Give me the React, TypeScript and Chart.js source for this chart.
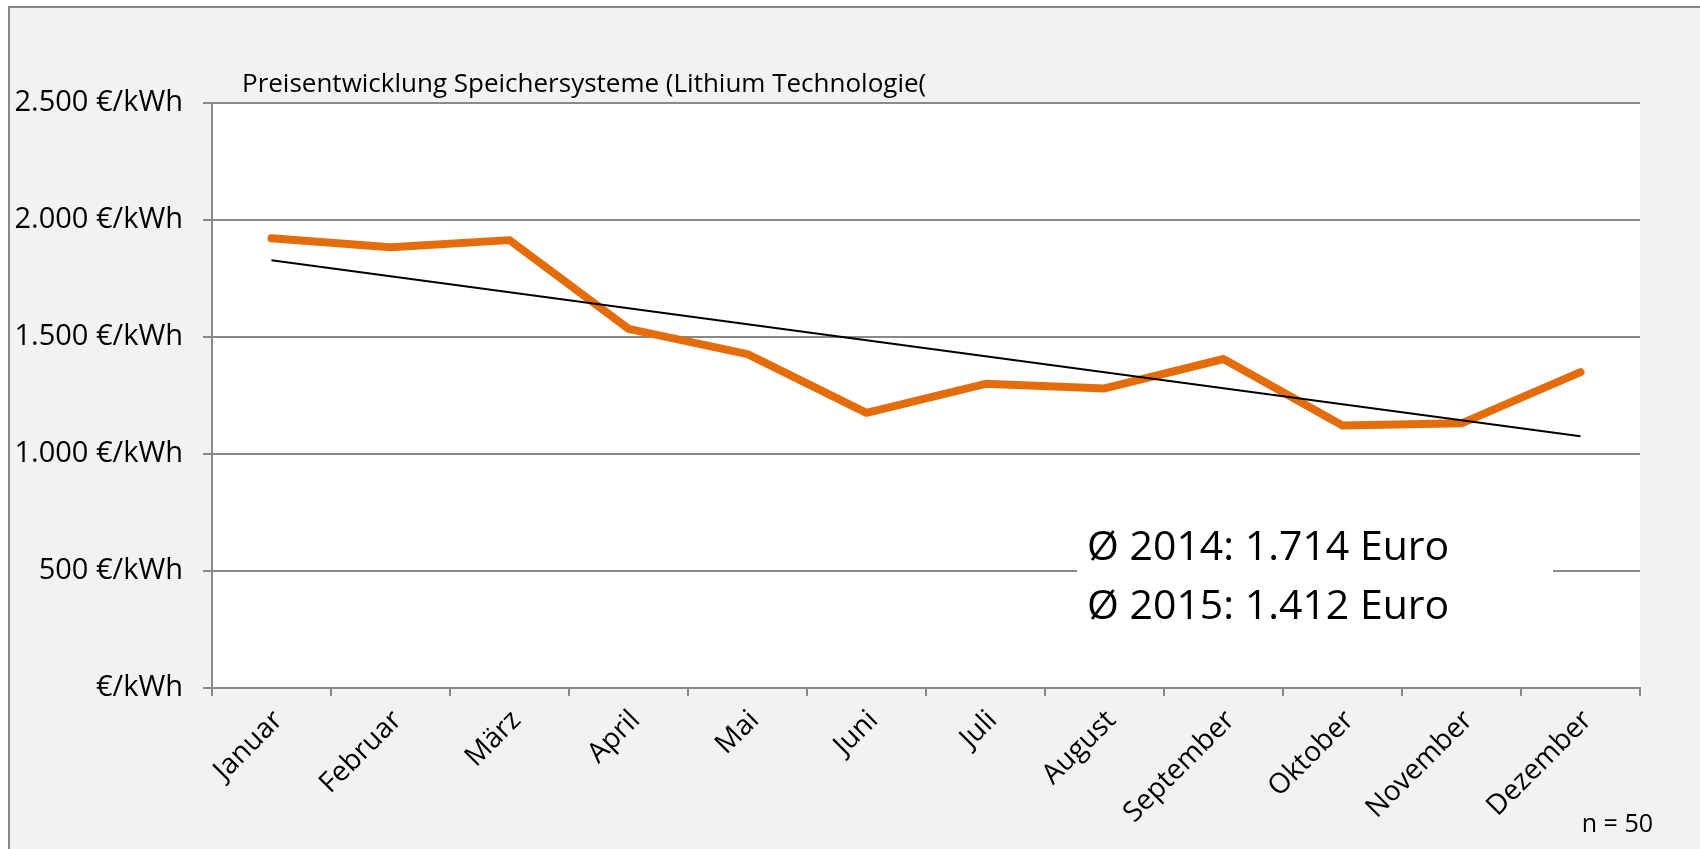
import React, { useEffect, useRef } from "react";
import { Chart, registerables } from "chart.js";

Chart.register(...registerables);

const months = [
  "Januar",
  "Februar",
  "März",
  "April",
  "Mai",
  "Juni",
  "Juli",
  "August",
  "September",
  "Oktober",
  "November",
  "Dezember",
];
const prices = [1922, 1884, 1914, 1535, 1427, 1176, 1300, 1280, 1406, 1122, 1131, 1350];
const trendEnds = [1828, null, null, null, null, null, null, null, null, null, null, 1076];
const yTickValues = [0, 500, 1000, 1500, 2000, 2500];
const yTickLabels = ["€/kWh", "500 €/kWh", "1.000 €/kWh", "1.500 €/kWh", "2.000 €/kWh", "2.500 €/kWh"];
const titleText = "Preisentwicklung Speichersysteme (Lithium Technologie(";
const avgLines = ["Ø 2014: 1.714 Euro", "Ø 2015: 1.412 Euro"];
const sampleNote = "n = 50";

const FONT = "'Open Sans', 'Noto Sans', sans-serif";
const GRID = "#898989";
const ORANGE = "#E46C0A";

const decorPlugin = {
  id: "decor",
  beforeDraw(chart: any) {
    const { ctx, width, height, chartArea } = chart;
    ctx.save();
    ctx.fillStyle = "#ffffff";
    ctx.fillRect(0, 0, width, height);
    ctx.fillStyle = "#f2f2f2";
    ctx.fillRect(9, 7, width, height);
    ctx.strokeStyle = GRID;
    ctx.lineWidth = 2;
    ctx.beginPath();
    ctx.moveTo(9, height + 5);
    ctx.lineTo(9, 7);
    ctx.lineTo(width + 5, 7);
    ctx.stroke();
    ctx.fillStyle = "#ffffff";
    ctx.fillRect(chartArea.left, chartArea.top, chartArea.right - chartArea.left, chartArea.bottom - chartArea.top);
    ctx.restore();
  },
  beforeDatasetsDraw(chart: any) {
    const { ctx } = chart;
    ctx.save();
    ctx.fillStyle = "#ffffff";
    ctx.fillRect(1077, 505, 476, 140);
    ctx.fillStyle = "#000000";
    ctx.font = `41px ${FONT}`;
    ctx.textBaseline = "alphabetic";
    ctx.textAlign = "left";
    ctx.fillText(avgLines[0], 1087, 560);
    ctx.fillText(avgLines[1], 1087, 619);
    ctx.restore();
  },
  afterDraw(chart: any) {
    const { ctx } = chart;
    ctx.save();
    ctx.fillStyle = "#000000";
    ctx.textBaseline = "alphabetic";
    ctx.font = `26px ${FONT}`;
    ctx.textAlign = "left";
    ctx.fillText(titleText, 242, 92);
    ctx.font = `25px ${FONT}`;
    ctx.textAlign = "right";
    ctx.fillText(sampleNote, 1653, 832);
    ctx.restore();
  },
};

export default function App() {
  const canvasRef = useRef<HTMLCanvasElement | null>(null);

  useEffect(() => {
    const canvas = canvasRef.current;
    if (!canvas) return;
    const chart = new Chart(canvas, {
      type: "line",
      data: {
        labels: months,
        datasets: [
          {
            label: "Trend",
            data: trendEnds as any,
            borderColor: "#000000",
            borderWidth: 2,
            pointRadius: 0,
            spanGaps: true,
            fill: false,
            tension: 0,
          },
          {
            label: "Preis",
            data: prices,
            borderColor: ORANGE,
            borderWidth: 8,
            pointRadius: 0,
            borderCapStyle: "round",
            borderJoinStyle: "round",
            fill: false,
            tension: 0,
          },
        ],
      },
      options: {
        responsive: false,
        maintainAspectRatio: false,
        animation: false,
        layout: { padding: { left: 0, top: 103, right: 60, bottom: 0 } },
        plugins: {
          legend: { display: false },
          tooltip: { enabled: false },
          title: { display: false },
        },
        scales: {
          x: {
            offset: true,
            grid: {
              offset: true,
              drawOnChartArea: false,
              drawTicks: true,
              tickLength: 8,
              color: GRID,
              lineWidth: 2,
            },
            border: { display: true, color: GRID, width: 2 },
            ticks: {
              minRotation: 45,
              maxRotation: 45,
              autoSkip: false,
              padding: 8,
              labelOffset: 7,
              color: "#000000",
              font: { family: FONT, size: 28 },
            },
            afterFit: (s: any) => {
              s.height = 161;
            },
          },
          y: {
            min: 0,
            max: 2500,
            afterBuildTicks: (s: any) => {
              s.ticks = yTickValues.map((v) => ({ value: v }));
            },
            grid: { color: GRID, lineWidth: 2, tickLength: 9 },
            border: { display: true, color: GRID, width: 2 },
            ticks: {
              padding: 20,
              color: "#000000",
              font: { family: FONT, size: 29 },
              callback: (v: any) => {
                const i = yTickValues.indexOf(Number(v));
                return i >= 0 ? yTickLabels[i] : "";
              },
            },
            afterFit: (s: any) => {
              s.width = 212;
            },
          },
        },
      },
      plugins: [decorPlugin],
    });
    return () => chart.destroy();
  }, []);

  return (
    <div style={{ position: "fixed", left: 0, top: 0, width: 1700, height: 849 }}>
      <canvas ref={canvasRef} width={1700} height={849} style={{ display: "block", width: 1700, height: 849 }} />
    </div>
  );
}
